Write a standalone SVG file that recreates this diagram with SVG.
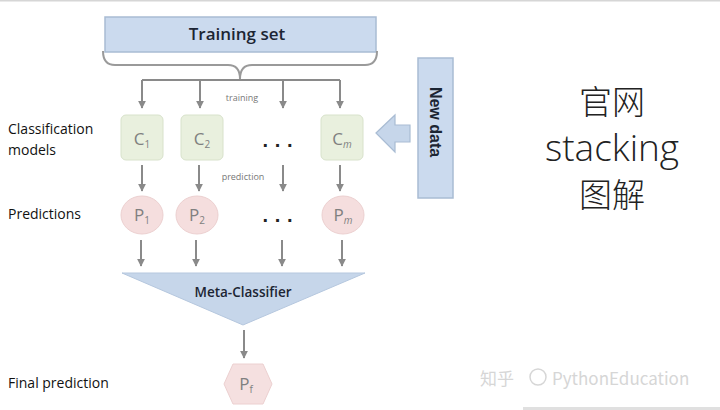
<svg xmlns="http://www.w3.org/2000/svg" width="720" height="410" viewBox="0 0 720 410">
<defs>
<marker id="ah" viewBox="0 0 10 10" refX="9" refY="5" markerWidth="4" markerHeight="4" orient="auto" markerUnits="strokeWidth">
<path d="M0,0 L10,5 L0,10 z" fill="#8a8a8a"/>
</marker>
</defs>
<style>
.lbl{font-family:"Open Sans","Liberation Sans",sans-serif;font-size:14px;fill:#111}
.sm{font-family:"Open Sans","Liberation Sans",sans-serif;font-size:9px;fill:#777}
.nd{font-family:"Open Sans","Liberation Sans",sans-serif;font-size:17px;fill:#808080}
.sub{font-size:10px}
.ar{stroke:#8a8a8a;stroke-width:2;fill:none;marker-end:url(#ah)}
.cbox{fill:#e9f0de;stroke:#d8e2cb;stroke-width:1}
.pc{fill:#f5dede;stroke:#ecd0d0;stroke-width:1}
.dots{font-family:"Liberation Sans",sans-serif;font-size:20px;fill:#222;font-weight:bold}
.big{font-family:"Noto Sans CJK SC","Noto Sans",sans-serif;font-weight:300;fill:#222;text-anchor:middle}
.bigl{font-family:"Open Sans","Noto Sans",sans-serif;font-weight:300;fill:#222;text-anchor:middle}
</style>
<rect x="0" y="0" width="720" height="410" fill="#ffffff"/>
<line x1="0" y1="0.5" x2="720" y2="0.5" stroke="#d6d6d6" stroke-width="2"/>
<line x1="523" y1="408.5" x2="720" y2="408.5" stroke="#e0e0e0" stroke-width="3"/>

<g id="training-set">
<rect x="105" y="17" width="271" height="35" fill="#cbdaee" stroke="#a9bcd3" stroke-width="1.5"/>
<text x="237" y="40" text-anchor="middle" font-family="Open Sans, Liberation Sans, sans-serif" font-size="17" font-weight="600" fill="#1c2533">Training set</text>
</g>

<g id="connectors">
<path d="M103,51 Q103,65 115,65 L228,65 Q240,65 240,79 Q240,65 252,65 L365,65 Q377,65 377,51" fill="none" stroke="#9a9a9a" stroke-width="2"/>
<line x1="142" y1="80" x2="340" y2="80" stroke="#8a8a8a" stroke-width="2"/>
<line x1="142" y1="80" x2="142" y2="108" class="ar"/>
<line x1="200" y1="80" x2="200" y2="108" class="ar"/>
<line x1="283" y1="80" x2="283" y2="108" class="ar"/>
<line x1="340" y1="80" x2="340" y2="108" class="ar"/>
<line x1="142" y1="165" x2="142" y2="191" class="ar"/>
<line x1="199" y1="165" x2="199" y2="191" class="ar"/>
<line x1="283" y1="165" x2="283" y2="191" class="ar"/>
<line x1="340" y1="165" x2="340" y2="191" class="ar"/>
<line x1="141" y1="240" x2="141" y2="266" class="ar"/>
<line x1="196" y1="240" x2="196" y2="266" class="ar"/>
<line x1="282" y1="240" x2="282" y2="266" class="ar"/>
<line x1="342" y1="240" x2="342" y2="266" class="ar"/>
<line x1="244" y1="330" x2="244" y2="358" class="ar"/>
<path d="M376,133 L395,115 L395,125 L410,125 L410,142 L395,142 L395,152 Z" fill="#c6d6ea" stroke="#a9bcd3" stroke-width="1.2"/>
<text x="242" y="101" text-anchor="middle" class="sm">training</text>
<text x="243" y="180" text-anchor="middle" class="sm">prediction</text>
</g>

<g id="new-data">
<rect x="418" y="58" width="35" height="140" fill="#cbdaee" stroke="#a9bcd3" stroke-width="1.5"/>
<text transform="translate(429.5,122) rotate(90)" text-anchor="middle" font-family="Liberation Sans, Arial, sans-serif" font-size="16" font-weight="bold" fill="#1c2533">New data</text>
</g>

<g id="labels">
<text x="8" y="134" class="lbl">Classification</text>
<text x="8" y="155" class="lbl">models</text>
<text x="8" y="219" class="lbl">Predictions</text>
<text x="8" y="388" class="lbl">Final prediction</text>
</g>

<g id="c1"><rect x="121" y="115" width="42" height="45" rx="5" class="cbox"/><text x="142" y="145" text-anchor="middle" class="nd">C<tspan class="sub" dy="3">1</tspan></text></g>
<g id="c2"><rect x="181" y="115" width="42" height="45" rx="5" class="cbox"/><text x="202" y="145" text-anchor="middle" class="nd">C<tspan class="sub" dy="3">2</tspan></text></g>
<g id="cm"><rect x="321" y="115" width="42" height="45" rx="5" class="cbox"/><text x="342" y="145" text-anchor="middle" class="nd">C<tspan class="sub" dy="3" font-style="italic" font-size="12">m</tspan></text></g>
<g id="c-dots"><text x="278" y="152" text-anchor="middle" class="dots">· · ·</text></g>

<g id="p1"><ellipse cx="142" cy="215" rx="21" ry="19" class="pc"/><text x="142" y="221" text-anchor="middle" class="nd" font-size="14">P<tspan class="sub" font-size="9" dy="3">1</tspan></text></g>
<g id="p2"><ellipse cx="197" cy="215" rx="21" ry="19" class="pc"/><text x="197" y="221" text-anchor="middle" class="nd" font-size="14">P<tspan class="sub" font-size="9" dy="3">2</tspan></text></g>
<g id="pm"><ellipse cx="343" cy="215" rx="21" ry="19" class="pc"/><text x="343" y="221" text-anchor="middle" class="nd" font-size="14">P<tspan class="sub" font-size="10" dy="3" font-style="italic">m</tspan></text></g>
<g id="p-dots"><text x="278" y="227" text-anchor="middle" class="dots">· · ·</text></g>

<g id="meta-classifier">
<polygon points="122,273 365,273 243,325" fill="#c6d6ea" stroke="#b5c7de" stroke-width="1"/>
<text x="243" y="297" text-anchor="middle" font-family="Open Sans, Liberation Sans, sans-serif" font-size="13.5" font-weight="600" fill="#1c2533">Meta-Classifier</text>
</g>

<g id="pf">
<polygon points="224,384 233,364 263,364 272,384 263,404 233,404" fill="#f5e0e0" stroke="#ecd0d0" stroke-width="1"/>
<text x="246" y="390" text-anchor="middle" class="nd" font-size="15">P<tspan class="sub" font-size="9" dy="3">f</tspan></text>
</g>

<g id="title">
<text x="612" y="114" class="big" font-size="33">官网</text>
<text x="612" y="161" class="bigl" font-size="37">stacking</text>
<text x="612" y="207" class="big" font-size="33">图解</text>
</g>

<g id="watermark" fill="#d6d6d6" font-family="Noto Sans CJK SC, Noto Sans, sans-serif" font-size="17">
<text x="480" y="385">知乎</text>
<circle cx="538" cy="377" r="8" fill="none" stroke="#d6d6d6" stroke-width="1.5"/>
<text x="552" y="385">PythonEducation</text>
</g>
</svg>
